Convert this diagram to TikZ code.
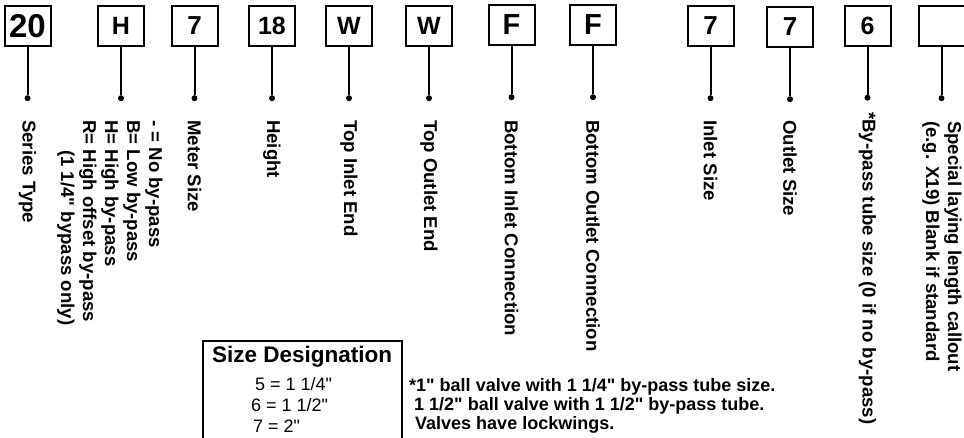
\documentclass[tikz,border=0pt]{standalone}
\usepackage{fontspec}
\setmainfont{Liberation Sans}[Ligatures=TeXOff]
\usetikzlibrary{positioning}

\begin{document}
\begin{tikzpicture}
		[x=1pt,y=-1pt,node distance=48pt,
		code/.style={draw,line width=2pt,minimum width=46pt,minimum height=40pt,inner sep=0pt,font=\bfseries\fontsize{#1}{#1}\selectfont},
		blob/.style={circle,fill,inner sep=0pt,minimum size=6pt},
		lbl/.style={rotate=-90,anchor=west,inner sep=0pt,align=left,font=\bfseries\fontsize{18.6}{22}\selectfont},
		txt/.style={anchor=base west,inner sep=0pt,font=\fontsize{18}{18}\selectfont}]
		\useasboundingbox (0,0) rectangle (964,437);
		\coordinate (top) at (0,120);
		\node[code=33] (ser) at (27.5,26) {20};
		\node[code=25] (byp) at (121,26) {H};
		\node[code=26] (met) at (194.5,26) {7};
		\node[code=25] (hgt) at (272,26) {18};
		\node[code=25] (ti) at (349,26) {W};
		\node[code=25] (to) at (429,26) {W};
		\node[code=29] (bi) at (511.5,25) {F};
		\node[code=29] (bo) at (593,25) {F};
		\node[code=26] (is) at (710.5,26) {7};
		\node[code=26] (os) at (790,27) {7};
		\node[code=25] (bt) at (867.5,25.5) {6};
		\node[code=25] (sp) at (941.5,26) {};
		\node[blob] (d_ser) [below=of ser] {};
		\node[blob] (d_byp) [below=of byp] {};
		\node[blob] (d_met) [below=of met] {};
		\node[blob] (d_hgt) [below=of hgt] {};
		\node[blob] (d_ti) [below=of ti] {};
		\node[blob] (d_to) [below=of to] {};
		\node[blob] (d_bi) [below=of bi] {};
		\node[blob] (d_bo) [below=of bo] {};
		\node[blob] (d_is) [below=of is] {};
		\node[blob] (d_os) [below=of os] {};
		\node[blob] (d_bt) [below=of bt] {};
		\node[blob] (d_sp) [below=of sp] {};
		\path[draw,line width=2pt]
		(ser) edge (d_ser) (byp) edge (d_byp) (met) edge (d_met) (hgt) edge (d_hgt)
		(ti) edge (d_ti) (to) edge (d_to) (bi) edge (d_bi) (bo) edge (d_bo)
		(is) edge (d_is) (os) edge (d_os) (bt) edge (d_bt) (sp) edge (d_sp);
		\node[lbl] (l_ser) at (d_ser |- top) {Series Type};
		\node[lbl] (l_byp) at (110,120) {- = No by-pass\\B= Low by-pass\\H= High by-pass\\R= High offset by-pass\\\hspace*{30pt}(1 1/4" bypass only)};
		\node[lbl] (l_met) at (d_met |- top) {Meter Size};
		\node[lbl] (l_hgt) at (d_hgt |- top) {Height};
		\node[lbl] (l_ti) at (d_ti |- top) {Top Inlet End};
		\node[lbl] (l_to) at (d_to |- top) {Top Outlet End};
		\node[lbl] (l_bi) at (d_bi |- top) {Bottom Inlet Connection};
		\node[lbl] (l_bo) at (d_bo |- top) {Bottom Outlet Connection};
		\node[lbl] (l_is) at (d_is |- top) {Inlet Size};
		\node[lbl] (l_os) at (d_os |- top) {Outlet Size};
		\node[lbl] (l_bt) at (867.5,112) {*By-pass tube size (0 if no by-pass)};
		\node[lbl] (l_sp) at (942,121) {Special laying length callout\\(e.g. X19) Blank if standard};
		\draw[line width=1.5pt] (203,440) -- (203,341) -- (402,341) -- (402,440);
		\node[anchor=base west,inner sep=0pt,font=\bfseries\fontsize{22.5}{22.5}\selectfont] (sd) at (212,362) {Size Designation};
		\node[txt] (s5) at (255,390) {5 = 1 1/4"};
		\node[txt] (s6) at (251,411) {6 = 1 1/2"};
		\node[txt] (s7) at (253,432) {7 = 2"};
		\node[txt,font=\bfseries\fontsize{18}{18}\selectfont] (n1) at (409,391) {*1" ball valve with 1 1/4" by-pass tube size.};
		\node[txt,font=\bfseries\fontsize{18}{18}\selectfont] (n2) at (414,410) {1 1/2" ball valve with 1 1/2" by-pass tube.};
		\node[txt,font=\bfseries\fontsize{18}{18}\selectfont] (n3) at (415,429) {Valves have lockwings.};
\end{tikzpicture}
\end{document}
